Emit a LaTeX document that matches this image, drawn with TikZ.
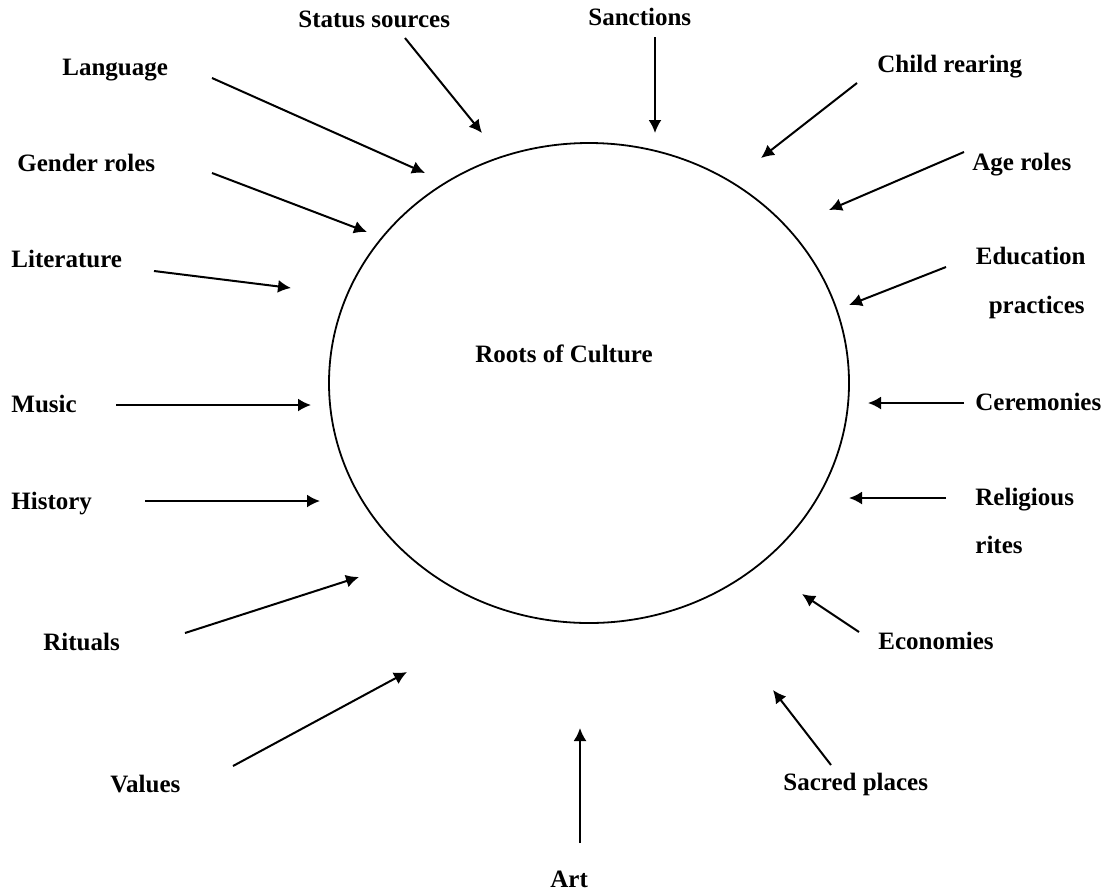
\documentclass[tikz,border=0pt]{standalone}
\usepackage{fontspec}
\setmainfont{Liberation Serif}
\usetikzlibrary{arrows.meta,shapes.geometric}
\begin{document}
\begin{tikzpicture}[x=0.5pt,y=-0.5pt,
  lbl/.style={inner sep=0pt, font=\fontsize{12.5}{15}\selectfont\bfseries},
  lblw/.style={lbl, anchor=base west},
  lble/.style={lbl, anchor=base east},
  arr/.style={line width=1pt, -{Latex[length=6.5pt,width=6.5pt]}},
  ring/.style={draw, ellipse, line width=0.9pt, inner sep=0pt, minimum width=260pt, minimum height=240pt}]
\useasboundingbox (0,0) rectangle (1112,895);
% circle
\node[ring] (root) at (589,383) {};
\node[lblw] (rootlbl) at (475,362) {Roots of Culture};
% labels
\node[lblw] (status) at (298,27) {Status sources};
\node[lblw] (sanctions) at (588,25) {Sanctions};
\node[lblw] (language) at (62,75) {Language};
\node[lblw] (child) at (877,72) {Child rearing};
\node[lblw] (gender) at (17,171) {Gender roles};
\node[lblw] (age) at (972,170) {Age roles};
\node[lblw] (literature) at (11,267) {Literature};
\node[lble] (edu) at (1086,264) {Education};
\node[lble] (edu2) at (1085,313) {practices};
\node[lblw] (music) at (11,412) {Music};
\node[lblw] (cer) at (975,410) {Ceremonies};
\node[lblw] (history) at (11,509) {History};
\node[lblw] (rel) at (975,505) {Religious};
\node[lblw] (rel2) at (975,553) {rites};
\node[lblw] (rituals) at (43,650) {Rituals};
\node[lblw] (econ) at (878,649) {Economies};
\node[lblw] (values) at (110,792) {Values};
\node[lblw] (sacred) at (783,790) {Sacred places};
\node[lblw] (art) at (550,887) {Art};
% arrow ends
\coordinate (statusS) at (405,38);   \coordinate (statusT) at (482,133);
\coordinate (sanctS) at (655,37);    \coordinate (sanctT) at (655,133);
\coordinate (langS) at (212,78);     \coordinate (langT) at (425,173);
\coordinate (childS) at (857,83);    \coordinate (childT) at (761,158);
\coordinate (genderS) at (212,173);  \coordinate (genderT) at (367,232);
\coordinate (ageS) at (964,152);     \coordinate (ageT) at (829,210);
\coordinate (litS) at (154,271);     \coordinate (litT) at (291,288);
\coordinate (eduS) at (946,267);     \coordinate (eduT) at (849,305);
\coordinate (musicS) at (116,405);   \coordinate (musicT) at (311,405);
\coordinate (cerS) at (964,403);     \coordinate (cerT) at (868,403);
\coordinate (histS) at (145,501);    \coordinate (histT) at (320,501);
\coordinate (relS) at (946,498);     \coordinate (relT) at (849,498);
\coordinate (ritS) at (185,633);     \coordinate (ritT) at (359,577);
\coordinate (econS) at (859,632);    \coordinate (econT) at (802,594);
\coordinate (valS) at (233,766);     \coordinate (valT) at (407,672);
\coordinate (sacS) at (831,765);     \coordinate (sacT) at (773,690);
\coordinate (artS) at (580,843);     \coordinate (artT) at (580,728);
% arrows
\draw[arr] (statusS) -- (statusT);
\draw[arr] (sanctS) -- (sanctT);
\draw[arr] (langS) -- (langT);
\draw[arr] (childS) -- (childT);
\draw[arr] (genderS) -- (genderT);
\draw[arr] (ageS) -- (ageT);
\draw[arr] (litS) -- (litT);
\draw[arr] (eduS) -- (eduT);
\draw[arr] (musicS) -- (musicT);
\draw[arr] (cerS) -- (cerT);
\draw[arr] (histS) -- (histT);
\draw[arr] (relS) -- (relT);
\draw[arr] (ritS) -- (ritT);
\draw[arr] (econS) -- (econT);
\draw[arr] (valS) -- (valT);
\draw[arr] (sacS) -- (sacT);
\draw[arr] (artS) -- (artT);
\end{tikzpicture}
\end{document}
